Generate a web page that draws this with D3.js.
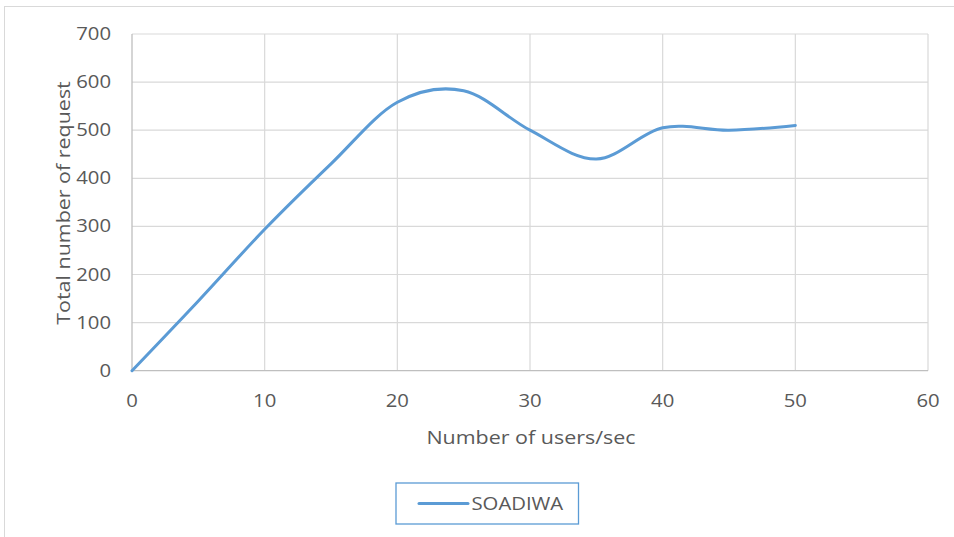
<!DOCTYPE html>
<html><head><meta charset="utf-8">
<script src="https://cdn.jsdelivr.net/npm/d3@7"></script>
<style>body{margin:0;background:#fff}svg{display:block}text{font-family:"Open Sans",sans-serif;fill:#595959}</style>
</head><body><svg id="c" width="954" height="537"></svg>
<script>
const xValues = [0, 5, 10, 15, 20, 25, 30, 35, 40, 45, 50];
const seriesSOADIWA = [0, 145, 294, 430, 558, 582, 500, 440, 505, 500, 510];
const xTicks = [0, 10, 20, 30, 40, 50, 60];
const yTicks = [0, 100, 200, 300, 400, 500, 600, 700];
const seriesName = "SOADIWA";
const xTitle = "Number of users/sec";
const yTitle = "Total number of request";

const SX = 1.16;
const svg = d3.select("#c");
const L = 132, R = 928, T = 34, B = 370.7;
const x = d3.scaleLinear().domain([0, 60]).range([L, R]);
const y = d3.scaleLinear().domain([0, 700]).range([B, T]);

// outer chart border (left & top visible)
svg.append("rect").attr("x", 4.5).attr("y", 6.5).attr("width", 1000).attr("height", 600)
  .attr("fill", "none").attr("stroke", "#d9d9d9").attr("stroke-width", 1);

// gridlines
svg.append("g").selectAll("line").data(yTicks.filter(d => d > 0)).join("line")
  .attr("x1", L).attr("x2", R).attr("y1", d => y(d)).attr("y2", d => y(d))
  .attr("stroke", "#d9d9d9").attr("stroke-width", 1.2);
svg.append("g").selectAll("line").data(xTicks.filter(d => d > 0)).join("line")
  .attr("x1", d => x(d)).attr("x2", d => x(d)).attr("y1", T).attr("y2", B)
  .attr("stroke", "#d9d9d9").attr("stroke-width", 1.2);

// axes lines
svg.append("line").attr("x1", L).attr("x2", R).attr("y1", B).attr("y2", B).attr("stroke", "#bfbfbf").attr("stroke-width", 1.3);
svg.append("line").attr("x1", L).attr("x2", L).attr("y1", T).attr("y2", B).attr("stroke", "#bfbfbf").attr("stroke-width", 1.3);

// tick labels
svg.append("g").selectAll("text").data(yTicks).join("text")
  .attr("transform", d => `translate(111,${y(d) + 6}) scale(${SX},1)`).attr("text-anchor", "end")
  .attr("font-size", 17.5).text(d => d);
svg.append("g").selectAll("text").data(xTicks).join("text")
  .attr("transform", d => `translate(${x(d)},406.5) scale(${SX},1)`).attr("text-anchor", "middle")
  .attr("font-size", 17.5).text(d => d);

// axis titles
svg.append("text").attr("transform", `translate(531,443.5) scale(${SX},1)`).attr("text-anchor", "middle")
  .attr("font-size", 18.5).text(xTitle);
svg.append("text").attr("transform", `translate(70,203) rotate(-90) scale(${SX},1)`).attr("text-anchor", "middle")
  .attr("font-size", 18.5).text(yTitle);

// line
const line = d3.line().x((d, i) => x(xValues[i])).y(d => y(d)).curve(d3.curveCardinal.tension(0));
svg.append("path").datum(seriesSOADIWA).attr("d", line)
  .attr("fill", "none").attr("stroke", "#5b9bd5").attr("stroke-width", 3).attr("stroke-linecap", "round");

// legend
svg.append("rect").attr("x", 396).attr("y", 483).attr("width", 182.5).attr("height", 41)
  .attr("fill", "none").attr("stroke", "#5b9bd5").attr("stroke-width", 1.3);
svg.append("line").attr("x1", 419).attr("x2", 468).attr("y1", 503.5).attr("y2", 503.5)
  .attr("stroke", "#5b9bd5").attr("stroke-width", 3).attr("stroke-linecap", "round");
svg.append("text").attr("transform", `translate(471.5,510) scale(${SX},1)`).attr("font-size", 17.5).text(seriesName);
</script></body></html>
